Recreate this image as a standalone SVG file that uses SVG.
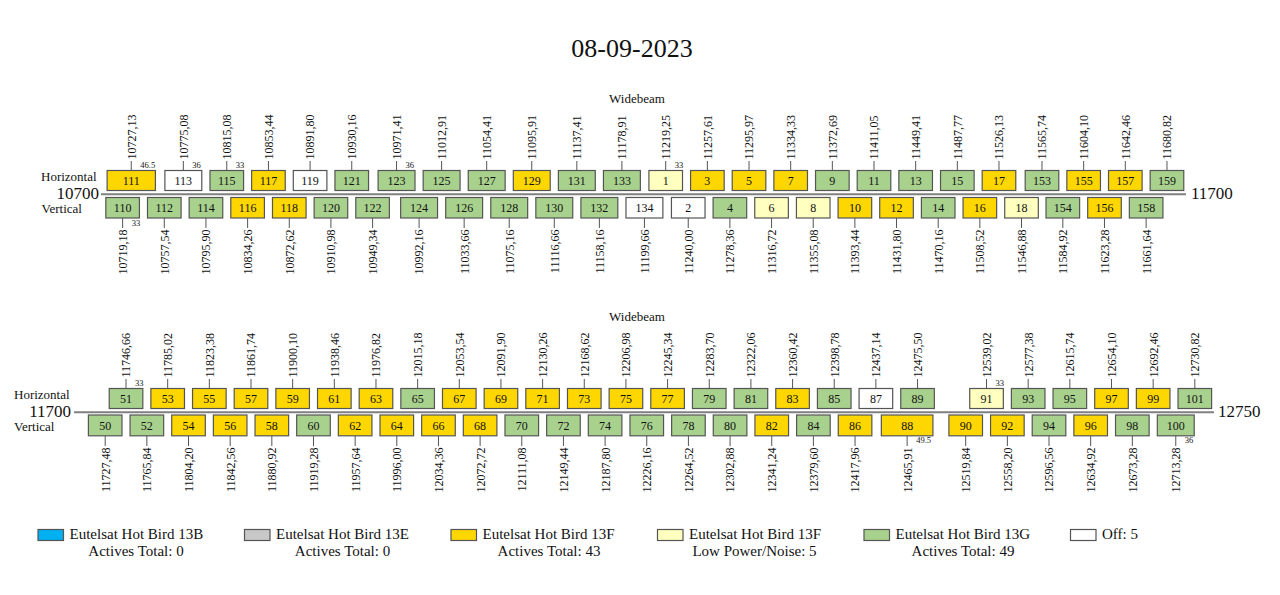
<svg xmlns="http://www.w3.org/2000/svg" width="1280" height="595" viewBox="0 0 1280 595" font-family="'Liberation Serif', 'DejaVu Serif', serif">
<style>
text{font-family:'Liberation Serif','DejaVu Serif',serif;fill:#111}
.b{stroke:#555;stroke-width:1.2}
.y{fill:#FFD700}.g{fill:#A9D18E}.l{fill:#FFFFC0}.w{fill:#FFFFFF}.u{fill:#00B0F0}.s{fill:#C8C8C8}
.n{font-size:12px;text-anchor:middle}
.f{font-size:12px}
.fe{font-size:12px;text-anchor:end}
.bw{font-size:8.5px}
.lab{font-size:13px}
.ax{font-size:17px}
.lg{font-size:15px}
.lm{font-size:15px;text-anchor:middle}
.tick{stroke:#555;stroke-width:1;fill:none}
.axis{stroke:#808080;stroke-width:2;fill:none}
</style>
<text x="632" y="57.3" font-size="26" text-anchor="middle">08-09-2023</text>

<g id="connectors">
<path class="axis" d="M101 194.3H1186M74 412.3H1214"/>
<path class="tick" d="M131.26 161V170.5M183.34 161V170.5M226.78 161V170.5M268.44 161V170.5M310.09 161V170.5M351.75 161V170.5M396.55 161V170.5M441.62 161V170.5M486.69 161V170.5M531.76 161V170.5M576.83 161V170.5M621.9 161V170.5M665.71 161V170.5M707.37 161V170.5M749.02 161V170.5M790.68 161V170.5M832.34 161V170.5M874 161V170.5M915.66 161V170.5M957.32 161V170.5M998.98 161V170.5M1041.99 161V170.5M1083.65 161V170.5M1125.31 161V170.5M1166.97 161V170.5"/>
<path class="tick" d="M122.63 218V228M164.29 218V228M205.95 218V228M247.61 218V228M289.27 218V228M330.92 218V228M372.58 218V228M419.09 218V228M464.15 218V228M509.22 218V228M554.29 218V228M599.36 218V228M644.43 218V228M688.24 218V228M729.9 218V228M771.56 218V228M813.22 218V228M854.88 218V228M896.53 218V228M938.19 218V228M979.85 218V228M1021.51 218V228M1062.82 218V228M1104.48 218V228M1146.14 218V228"/>
<path class="tick" d="M126.02 379V388.5M167.68 379V388.5M209.34 379V388.5M251 379V388.5M292.66 379V388.5M334.32 379V388.5M375.98 379V388.5M417.64 379V388.5M459.29 379V388.5M500.95 379V388.5M542.61 379V388.5M584.27 379V388.5M625.93 379V388.5M667.59 379V388.5M709.25 379V388.5M750.91 379V388.5M792.57 379V388.5M834.23 379V388.5M875.88 379V388.5M917.54 379V388.5M986.53 379V388.5M1028.18 379V388.5M1069.84 379V388.5M1111.5 379V388.5M1153.16 379V388.5M1194.82 379V388.5"/>
<path class="tick" d="M105.19 436V446M146.85 436V446M188.51 436V446M230.17 436V446M271.83 436V446M313.49 436V446M355.15 436V446M396.81 436V446M438.47 436V446M480.12 436V446M521.78 436V446M563.44 436V446M605.1 436V446M646.76 436V446M688.42 436V446M730.08 436V446M771.74 436V446M813.4 436V446M855.05 436V446M907.13 436V446M965.7 436V446M1007.36 436V446M1049.01 436V446M1090.67 436V446M1132.33 436V446M1175.77 436V446"/>
</g>

<g id="band1-labels">
<text class="lab" x="637" y="103" text-anchor="middle">Widebeam</text>
<text class="lab" x="41" y="181">Horizontal</text>
<text class="lab" x="41.5" y="213">Vertical</text>
<text class="ax" x="99" y="199" text-anchor="end">10700</text>
<text class="ax" x="1191" y="199">11700</text>
</g>

<g id="band2-labels">
<text class="lab" x="637" y="321" text-anchor="middle">Widebeam</text>
<text class="lab" x="14" y="399">Horizontal</text>
<text class="lab" x="14" y="431">Vertical</text>
<text class="ax" x="71" y="417" text-anchor="end">11700</text>
<text class="ax" x="1218" y="417">12750</text>
</g>

<!-- Band 1 Horizontal -->
<g id="tp111" transform="translate(131.26,0)"><rect class="b y" x="-24.15" y="170.5" width="48.3" height="20"/><text class="n" y="184.5">111</text><text class="f" transform="translate(4.4,159.5) rotate(-90)">10727,13</text><text class="bw" x="9" y="168.3">46.5</text></g>
<g id="tp113" transform="translate(183.34,0)"><rect class="b w" x="-18.45" y="170.5" width="36.9" height="20"/><text class="n" y="184.5">113</text><text class="f" transform="translate(4.4,159.5) rotate(-90)">10775,08</text><text class="bw" x="9" y="168.3">36</text></g>
<g id="tp115" transform="translate(226.78,0)"><rect class="b g" x="-16.8" y="170.5" width="33.6" height="20"/><text class="n" y="184.5">115</text><text class="f" transform="translate(4.4,159.5) rotate(-90)">10815,08</text><text class="bw" x="9" y="168.3">33</text></g>
<g id="tp117" transform="translate(268.44,0)"><rect class="b y" x="-16.8" y="170.5" width="33.6" height="20"/><text class="n" y="184.5">117</text><text class="f" transform="translate(4.4,159.5) rotate(-90)">10853,44</text></g>
<g id="tp119" transform="translate(310.09,0)"><rect class="b w" x="-16.8" y="170.5" width="33.6" height="20"/><text class="n" y="184.5">119</text><text class="f" transform="translate(4.4,159.5) rotate(-90)">10891,80</text></g>
<g id="tp121" transform="translate(351.75,0)"><rect class="b g" x="-16.8" y="170.5" width="33.6" height="20"/><text class="n" y="184.5">121</text><text class="f" transform="translate(4.4,159.5) rotate(-90)">10930,16</text></g>
<g id="tp123" transform="translate(396.55,0)"><rect class="b g" x="-18.45" y="170.5" width="36.9" height="20"/><text class="n" y="184.5">123</text><text class="f" transform="translate(4.4,159.5) rotate(-90)">10971,41</text><text class="bw" x="9" y="168.3">36</text></g>
<g id="tp125" transform="translate(441.62,0)"><rect class="b g" x="-18.45" y="170.5" width="36.9" height="20"/><text class="n" y="184.5">125</text><text class="f" transform="translate(4.4,159.5) rotate(-90)">11012,91</text></g>
<g id="tp127" transform="translate(486.69,0)"><rect class="b g" x="-18.45" y="170.5" width="36.9" height="20"/><text class="n" y="184.5">127</text><text class="f" transform="translate(4.4,159.5) rotate(-90)">11054,41</text></g>
<g id="tp129" transform="translate(531.76,0)"><rect class="b y" x="-18.45" y="170.5" width="36.9" height="20"/><text class="n" y="184.5">129</text><text class="f" transform="translate(4.4,159.5) rotate(-90)">11095,91</text></g>
<g id="tp131" transform="translate(576.83,0)"><rect class="b g" x="-18.45" y="170.5" width="36.9" height="20"/><text class="n" y="184.5">131</text><text class="f" transform="translate(4.4,159.5) rotate(-90)">11137,41</text></g>
<g id="tp133" transform="translate(621.9,0)"><rect class="b g" x="-18.45" y="170.5" width="36.9" height="20"/><text class="n" y="184.5">133</text><text class="f" transform="translate(4.4,159.5) rotate(-90)">11178,91</text></g>
<g id="tp1" transform="translate(665.71,0)"><rect class="b l" x="-16.8" y="170.5" width="33.6" height="20"/><text class="n" y="184.5">1</text><text class="f" transform="translate(4.4,159.5) rotate(-90)">11219,25</text><text class="bw" x="9" y="168.3">33</text></g>
<g id="tp3" transform="translate(707.37,0)"><rect class="b y" x="-16.8" y="170.5" width="33.6" height="20"/><text class="n" y="184.5">3</text><text class="f" transform="translate(4.4,159.5) rotate(-90)">11257,61</text></g>
<g id="tp5" transform="translate(749.02,0)"><rect class="b y" x="-16.8" y="170.5" width="33.6" height="20"/><text class="n" y="184.5">5</text><text class="f" transform="translate(4.4,159.5) rotate(-90)">11295,97</text></g>
<g id="tp7" transform="translate(790.68,0)"><rect class="b y" x="-16.8" y="170.5" width="33.6" height="20"/><text class="n" y="184.5">7</text><text class="f" transform="translate(4.4,159.5) rotate(-90)">11334,33</text></g>
<g id="tp9" transform="translate(832.34,0)"><rect class="b g" x="-16.8" y="170.5" width="33.6" height="20"/><text class="n" y="184.5">9</text><text class="f" transform="translate(4.4,159.5) rotate(-90)">11372,69</text></g>
<g id="tp11" transform="translate(874,0)"><rect class="b g" x="-16.8" y="170.5" width="33.6" height="20"/><text class="n" y="184.5">11</text><text class="f" transform="translate(4.4,159.5) rotate(-90)">11411,05</text></g>
<g id="tp13" transform="translate(915.66,0)"><rect class="b g" x="-16.8" y="170.5" width="33.6" height="20"/><text class="n" y="184.5">13</text><text class="f" transform="translate(4.4,159.5) rotate(-90)">11449,41</text></g>
<g id="tp15" transform="translate(957.32,0)"><rect class="b g" x="-16.8" y="170.5" width="33.6" height="20"/><text class="n" y="184.5">15</text><text class="f" transform="translate(4.4,159.5) rotate(-90)">11487,77</text></g>
<g id="tp17" transform="translate(998.98,0)"><rect class="b y" x="-16.8" y="170.5" width="33.6" height="20"/><text class="n" y="184.5">17</text><text class="f" transform="translate(4.4,159.5) rotate(-90)">11526,13</text></g>
<g id="tp153" transform="translate(1041.99,0)"><rect class="b g" x="-16.8" y="170.5" width="33.6" height="20"/><text class="n" y="184.5">153</text><text class="f" transform="translate(4.4,159.5) rotate(-90)">11565,74</text></g>
<g id="tp155" transform="translate(1083.65,0)"><rect class="b y" x="-16.8" y="170.5" width="33.6" height="20"/><text class="n" y="184.5">155</text><text class="f" transform="translate(4.4,159.5) rotate(-90)">11604,10</text></g>
<g id="tp157" transform="translate(1125.31,0)"><rect class="b y" x="-16.8" y="170.5" width="33.6" height="20"/><text class="n" y="184.5">157</text><text class="f" transform="translate(4.4,159.5) rotate(-90)">11642,46</text></g>
<g id="tp159" transform="translate(1166.97,0)"><rect class="b g" x="-16.8" y="170.5" width="33.6" height="20"/><text class="n" y="184.5">159</text><text class="f" transform="translate(4.4,159.5) rotate(-90)">11680,82</text></g>

<!-- Band 1 Vertical -->
<g id="tp110" transform="translate(122.63,0)"><rect class="b g" x="-16.8" y="197.5" width="33.6" height="20.5"/><text class="n" y="211.7">110</text><text class="fe" transform="translate(4.4,229.5) rotate(-90)">10719,18</text><text class="bw" x="9" y="225.5">33</text></g>
<g id="tp112" transform="translate(164.29,0)"><rect class="b g" x="-16.8" y="197.5" width="33.6" height="20.5"/><text class="n" y="211.7">112</text><text class="fe" transform="translate(4.4,229.5) rotate(-90)">10757,54</text></g>
<g id="tp114" transform="translate(205.95,0)"><rect class="b g" x="-16.8" y="197.5" width="33.6" height="20.5"/><text class="n" y="211.7">114</text><text class="fe" transform="translate(4.4,229.5) rotate(-90)">10795,90</text></g>
<g id="tp116" transform="translate(247.61,0)"><rect class="b y" x="-16.8" y="197.5" width="33.6" height="20.5"/><text class="n" y="211.7">116</text><text class="fe" transform="translate(4.4,229.5) rotate(-90)">10834,26</text></g>
<g id="tp118" transform="translate(289.27,0)"><rect class="b y" x="-16.8" y="197.5" width="33.6" height="20.5"/><text class="n" y="211.7">118</text><text class="fe" transform="translate(4.4,229.5) rotate(-90)">10872,62</text></g>
<g id="tp120" transform="translate(330.92,0)"><rect class="b g" x="-16.8" y="197.5" width="33.6" height="20.5"/><text class="n" y="211.7">120</text><text class="fe" transform="translate(4.4,229.5) rotate(-90)">10910,98</text></g>
<g id="tp122" transform="translate(372.58,0)"><rect class="b g" x="-16.8" y="197.5" width="33.6" height="20.5"/><text class="n" y="211.7">122</text><text class="fe" transform="translate(4.4,229.5) rotate(-90)">10949,34</text></g>
<g id="tp124" transform="translate(419.09,0)"><rect class="b g" x="-18.45" y="197.5" width="36.9" height="20.5"/><text class="n" y="211.7">124</text><text class="fe" transform="translate(4.4,229.5) rotate(-90)">10992,16</text></g>
<g id="tp126" transform="translate(464.15,0)"><rect class="b g" x="-18.45" y="197.5" width="36.9" height="20.5"/><text class="n" y="211.7">126</text><text class="fe" transform="translate(4.4,229.5) rotate(-90)">11033,66</text></g>
<g id="tp128" transform="translate(509.22,0)"><rect class="b g" x="-18.45" y="197.5" width="36.9" height="20.5"/><text class="n" y="211.7">128</text><text class="fe" transform="translate(4.4,229.5) rotate(-90)">11075,16</text></g>
<g id="tp130" transform="translate(554.29,0)"><rect class="b g" x="-18.45" y="197.5" width="36.9" height="20.5"/><text class="n" y="211.7">130</text><text class="fe" transform="translate(4.4,229.5) rotate(-90)">11116,66</text></g>
<g id="tp132" transform="translate(599.36,0)"><rect class="b g" x="-18.45" y="197.5" width="36.9" height="20.5"/><text class="n" y="211.7">132</text><text class="fe" transform="translate(4.4,229.5) rotate(-90)">11158,16</text></g>
<g id="tp134" transform="translate(644.43,0)"><rect class="b w" x="-18.45" y="197.5" width="36.9" height="20.5"/><text class="n" y="211.7">134</text><text class="fe" transform="translate(4.4,229.5) rotate(-90)">11199,66</text></g>
<g id="tp2" transform="translate(688.24,0)"><rect class="b w" x="-16.8" y="197.5" width="33.6" height="20.5"/><text class="n" y="211.7">2</text><text class="fe" transform="translate(4.4,229.5) rotate(-90)">11240,00</text></g>
<g id="tp4" transform="translate(729.9,0)"><rect class="b g" x="-16.8" y="197.5" width="33.6" height="20.5"/><text class="n" y="211.7">4</text><text class="fe" transform="translate(4.4,229.5) rotate(-90)">11278,36</text></g>
<g id="tp6" transform="translate(771.56,0)"><rect class="b l" x="-16.8" y="197.5" width="33.6" height="20.5"/><text class="n" y="211.7">6</text><text class="fe" transform="translate(4.4,229.5) rotate(-90)">11316,72</text></g>
<g id="tp8" transform="translate(813.22,0)"><rect class="b l" x="-16.8" y="197.5" width="33.6" height="20.5"/><text class="n" y="211.7">8</text><text class="fe" transform="translate(4.4,229.5) rotate(-90)">11355,08</text></g>
<g id="tp10" transform="translate(854.88,0)"><rect class="b y" x="-16.8" y="197.5" width="33.6" height="20.5"/><text class="n" y="211.7">10</text><text class="fe" transform="translate(4.4,229.5) rotate(-90)">11393,44</text></g>
<g id="tp12" transform="translate(896.53,0)"><rect class="b y" x="-16.8" y="197.5" width="33.6" height="20.5"/><text class="n" y="211.7">12</text><text class="fe" transform="translate(4.4,229.5) rotate(-90)">11431,80</text></g>
<g id="tp14" transform="translate(938.19,0)"><rect class="b g" x="-16.8" y="197.5" width="33.6" height="20.5"/><text class="n" y="211.7">14</text><text class="fe" transform="translate(4.4,229.5) rotate(-90)">11470,16</text></g>
<g id="tp16" transform="translate(979.85,0)"><rect class="b y" x="-16.8" y="197.5" width="33.6" height="20.5"/><text class="n" y="211.7">16</text><text class="fe" transform="translate(4.4,229.5) rotate(-90)">11508,52</text></g>
<g id="tp18" transform="translate(1021.51,0)"><rect class="b l" x="-16.8" y="197.5" width="33.6" height="20.5"/><text class="n" y="211.7">18</text><text class="fe" transform="translate(4.4,229.5) rotate(-90)">11546,88</text></g>
<g id="tp154" transform="translate(1062.82,0)"><rect class="b g" x="-16.8" y="197.5" width="33.6" height="20.5"/><text class="n" y="211.7">154</text><text class="fe" transform="translate(4.4,229.5) rotate(-90)">11584,92</text></g>
<g id="tp156" transform="translate(1104.48,0)"><rect class="b y" x="-16.8" y="197.5" width="33.6" height="20.5"/><text class="n" y="211.7">156</text><text class="fe" transform="translate(4.4,229.5) rotate(-90)">11623,28</text></g>
<g id="tp158" transform="translate(1146.14,0)"><rect class="b g" x="-16.8" y="197.5" width="33.6" height="20.5"/><text class="n" y="211.7">158</text><text class="fe" transform="translate(4.4,229.5) rotate(-90)">11661,64</text></g>

<!-- Band 2 Horizontal -->
<g id="tp51" transform="translate(126.02,0)"><rect class="b g" x="-16.8" y="388.5" width="33.6" height="20"/><text class="n" y="402.5">51</text><text class="f" transform="translate(4.4,377.5) rotate(-90)">11746,66</text><text class="bw" x="9" y="386.3">33</text></g>
<g id="tp53" transform="translate(167.68,0)"><rect class="b y" x="-16.8" y="388.5" width="33.6" height="20"/><text class="n" y="402.5">53</text><text class="f" transform="translate(4.4,377.5) rotate(-90)">11785,02</text></g>
<g id="tp55" transform="translate(209.34,0)"><rect class="b y" x="-16.8" y="388.5" width="33.6" height="20"/><text class="n" y="402.5">55</text><text class="f" transform="translate(4.4,377.5) rotate(-90)">11823,38</text></g>
<g id="tp57" transform="translate(251,0)"><rect class="b y" x="-16.8" y="388.5" width="33.6" height="20"/><text class="n" y="402.5">57</text><text class="f" transform="translate(4.4,377.5) rotate(-90)">11861,74</text></g>
<g id="tp59" transform="translate(292.66,0)"><rect class="b y" x="-16.8" y="388.5" width="33.6" height="20"/><text class="n" y="402.5">59</text><text class="f" transform="translate(4.4,377.5) rotate(-90)">11900,10</text></g>
<g id="tp61" transform="translate(334.32,0)"><rect class="b y" x="-16.8" y="388.5" width="33.6" height="20"/><text class="n" y="402.5">61</text><text class="f" transform="translate(4.4,377.5) rotate(-90)">11938,46</text></g>
<g id="tp63" transform="translate(375.98,0)"><rect class="b y" x="-16.8" y="388.5" width="33.6" height="20"/><text class="n" y="402.5">63</text><text class="f" transform="translate(4.4,377.5) rotate(-90)">11976,82</text></g>
<g id="tp65" transform="translate(417.64,0)"><rect class="b g" x="-16.8" y="388.5" width="33.6" height="20"/><text class="n" y="402.5">65</text><text class="f" transform="translate(4.4,377.5) rotate(-90)">12015,18</text></g>
<g id="tp67" transform="translate(459.29,0)"><rect class="b y" x="-16.8" y="388.5" width="33.6" height="20"/><text class="n" y="402.5">67</text><text class="f" transform="translate(4.4,377.5) rotate(-90)">12053,54</text></g>
<g id="tp69" transform="translate(500.95,0)"><rect class="b y" x="-16.8" y="388.5" width="33.6" height="20"/><text class="n" y="402.5">69</text><text class="f" transform="translate(4.4,377.5) rotate(-90)">12091,90</text></g>
<g id="tp71" transform="translate(542.61,0)"><rect class="b y" x="-16.8" y="388.5" width="33.6" height="20"/><text class="n" y="402.5">71</text><text class="f" transform="translate(4.4,377.5) rotate(-90)">12130,26</text></g>
<g id="tp73" transform="translate(584.27,0)"><rect class="b y" x="-16.8" y="388.5" width="33.6" height="20"/><text class="n" y="402.5">73</text><text class="f" transform="translate(4.4,377.5) rotate(-90)">12168,62</text></g>
<g id="tp75" transform="translate(625.93,0)"><rect class="b y" x="-16.8" y="388.5" width="33.6" height="20"/><text class="n" y="402.5">75</text><text class="f" transform="translate(4.4,377.5) rotate(-90)">12206,98</text></g>
<g id="tp77" transform="translate(667.59,0)"><rect class="b y" x="-16.8" y="388.5" width="33.6" height="20"/><text class="n" y="402.5">77</text><text class="f" transform="translate(4.4,377.5) rotate(-90)">12245,34</text></g>
<g id="tp79" transform="translate(709.25,0)"><rect class="b g" x="-16.8" y="388.5" width="33.6" height="20"/><text class="n" y="402.5">79</text><text class="f" transform="translate(4.4,377.5) rotate(-90)">12283,70</text></g>
<g id="tp81" transform="translate(750.91,0)"><rect class="b g" x="-16.8" y="388.5" width="33.6" height="20"/><text class="n" y="402.5">81</text><text class="f" transform="translate(4.4,377.5) rotate(-90)">12322,06</text></g>
<g id="tp83" transform="translate(792.57,0)"><rect class="b y" x="-16.8" y="388.5" width="33.6" height="20"/><text class="n" y="402.5">83</text><text class="f" transform="translate(4.4,377.5) rotate(-90)">12360,42</text></g>
<g id="tp85" transform="translate(834.23,0)"><rect class="b g" x="-16.8" y="388.5" width="33.6" height="20"/><text class="n" y="402.5">85</text><text class="f" transform="translate(4.4,377.5) rotate(-90)">12398,78</text></g>
<g id="tp87" transform="translate(875.88,0)"><rect class="b w" x="-16.8" y="388.5" width="33.6" height="20"/><text class="n" y="402.5">87</text><text class="f" transform="translate(4.4,377.5) rotate(-90)">12437,14</text></g>
<g id="tp89" transform="translate(917.54,0)"><rect class="b g" x="-16.8" y="388.5" width="33.6" height="20"/><text class="n" y="402.5">89</text><text class="f" transform="translate(4.4,377.5) rotate(-90)">12475,50</text></g>
<g id="tp91" transform="translate(986.53,0)"><rect class="b l" x="-16.8" y="388.5" width="33.6" height="20"/><text class="n" y="402.5">91</text><text class="f" transform="translate(4.4,377.5) rotate(-90)">12539,02</text><text class="bw" x="9" y="386.3">33</text></g>
<g id="tp93" transform="translate(1028.18,0)"><rect class="b g" x="-16.8" y="388.5" width="33.6" height="20"/><text class="n" y="402.5">93</text><text class="f" transform="translate(4.4,377.5) rotate(-90)">12577,38</text></g>
<g id="tp95" transform="translate(1069.84,0)"><rect class="b g" x="-16.8" y="388.5" width="33.6" height="20"/><text class="n" y="402.5">95</text><text class="f" transform="translate(4.4,377.5) rotate(-90)">12615,74</text></g>
<g id="tp97" transform="translate(1111.5,0)"><rect class="b y" x="-16.8" y="388.5" width="33.6" height="20"/><text class="n" y="402.5">97</text><text class="f" transform="translate(4.4,377.5) rotate(-90)">12654,10</text></g>
<g id="tp99" transform="translate(1153.16,0)"><rect class="b y" x="-16.8" y="388.5" width="33.6" height="20"/><text class="n" y="402.5">99</text><text class="f" transform="translate(4.4,377.5) rotate(-90)">12692,46</text></g>
<g id="tp101" transform="translate(1194.82,0)"><rect class="b g" x="-16.8" y="388.5" width="33.6" height="20"/><text class="n" y="402.5">101</text><text class="f" transform="translate(4.4,377.5) rotate(-90)">12730,82</text></g>

<!-- Band 2 Vertical -->
<g id="tp50" transform="translate(105.19,0)"><rect class="b g" x="-16.8" y="415" width="33.6" height="20.8"/><text class="n" y="429.5">50</text><text class="fe" transform="translate(4.4,447.5) rotate(-90)">11727,48</text></g>
<g id="tp52" transform="translate(146.85,0)"><rect class="b g" x="-16.8" y="415" width="33.6" height="20.8"/><text class="n" y="429.5">52</text><text class="fe" transform="translate(4.4,447.5) rotate(-90)">11765,84</text></g>
<g id="tp54" transform="translate(188.51,0)"><rect class="b y" x="-16.8" y="415" width="33.6" height="20.8"/><text class="n" y="429.5">54</text><text class="fe" transform="translate(4.4,447.5) rotate(-90)">11804,20</text></g>
<g id="tp56" transform="translate(230.17,0)"><rect class="b y" x="-16.8" y="415" width="33.6" height="20.8"/><text class="n" y="429.5">56</text><text class="fe" transform="translate(4.4,447.5) rotate(-90)">11842,56</text></g>
<g id="tp58" transform="translate(271.83,0)"><rect class="b y" x="-16.8" y="415" width="33.6" height="20.8"/><text class="n" y="429.5">58</text><text class="fe" transform="translate(4.4,447.5) rotate(-90)">11880,92</text></g>
<g id="tp60" transform="translate(313.49,0)"><rect class="b g" x="-16.8" y="415" width="33.6" height="20.8"/><text class="n" y="429.5">60</text><text class="fe" transform="translate(4.4,447.5) rotate(-90)">11919,28</text></g>
<g id="tp62" transform="translate(355.15,0)"><rect class="b y" x="-16.8" y="415" width="33.6" height="20.8"/><text class="n" y="429.5">62</text><text class="fe" transform="translate(4.4,447.5) rotate(-90)">11957,64</text></g>
<g id="tp64" transform="translate(396.81,0)"><rect class="b y" x="-16.8" y="415" width="33.6" height="20.8"/><text class="n" y="429.5">64</text><text class="fe" transform="translate(4.4,447.5) rotate(-90)">11996,00</text></g>
<g id="tp66" transform="translate(438.47,0)"><rect class="b y" x="-16.8" y="415" width="33.6" height="20.8"/><text class="n" y="429.5">66</text><text class="fe" transform="translate(4.4,447.5) rotate(-90)">12034,36</text></g>
<g id="tp68" transform="translate(480.12,0)"><rect class="b y" x="-16.8" y="415" width="33.6" height="20.8"/><text class="n" y="429.5">68</text><text class="fe" transform="translate(4.4,447.5) rotate(-90)">12072,72</text></g>
<g id="tp70" transform="translate(521.78,0)"><rect class="b g" x="-16.8" y="415" width="33.6" height="20.8"/><text class="n" y="429.5">70</text><text class="fe" transform="translate(4.4,447.5) rotate(-90)">12111,08</text></g>
<g id="tp72" transform="translate(563.44,0)"><rect class="b g" x="-16.8" y="415" width="33.6" height="20.8"/><text class="n" y="429.5">72</text><text class="fe" transform="translate(4.4,447.5) rotate(-90)">12149,44</text></g>
<g id="tp74" transform="translate(605.1,0)"><rect class="b g" x="-16.8" y="415" width="33.6" height="20.8"/><text class="n" y="429.5">74</text><text class="fe" transform="translate(4.4,447.5) rotate(-90)">12187,80</text></g>
<g id="tp76" transform="translate(646.76,0)"><rect class="b g" x="-16.8" y="415" width="33.6" height="20.8"/><text class="n" y="429.5">76</text><text class="fe" transform="translate(4.4,447.5) rotate(-90)">12226,16</text></g>
<g id="tp78" transform="translate(688.42,0)"><rect class="b g" x="-16.8" y="415" width="33.6" height="20.8"/><text class="n" y="429.5">78</text><text class="fe" transform="translate(4.4,447.5) rotate(-90)">12264,52</text></g>
<g id="tp80" transform="translate(730.08,0)"><rect class="b g" x="-16.8" y="415" width="33.6" height="20.8"/><text class="n" y="429.5">80</text><text class="fe" transform="translate(4.4,447.5) rotate(-90)">12302,88</text></g>
<g id="tp82" transform="translate(771.74,0)"><rect class="b y" x="-16.8" y="415" width="33.6" height="20.8"/><text class="n" y="429.5">82</text><text class="fe" transform="translate(4.4,447.5) rotate(-90)">12341,24</text></g>
<g id="tp84" transform="translate(813.4,0)"><rect class="b g" x="-16.8" y="415" width="33.6" height="20.8"/><text class="n" y="429.5">84</text><text class="fe" transform="translate(4.4,447.5) rotate(-90)">12379,60</text></g>
<g id="tp86" transform="translate(855.05,0)"><rect class="b y" x="-16.8" y="415" width="33.6" height="20.8"/><text class="n" y="429.5">86</text><text class="fe" transform="translate(4.4,447.5) rotate(-90)">12417,96</text></g>
<g id="tp88" transform="translate(907.13,0)"><rect class="b y" x="-25.8" y="415" width="51.6" height="20.8"/><text class="n" y="429.5">88</text><text class="fe" transform="translate(4.4,447.5) rotate(-90)">12465,91</text><text class="bw" x="9" y="443.3">49.5</text></g>
<g id="tp90" transform="translate(965.7,0)"><rect class="b y" x="-16.8" y="415" width="33.6" height="20.8"/><text class="n" y="429.5">90</text><text class="fe" transform="translate(4.4,447.5) rotate(-90)">12519,84</text></g>
<g id="tp92" transform="translate(1007.36,0)"><rect class="b y" x="-16.8" y="415" width="33.6" height="20.8"/><text class="n" y="429.5">92</text><text class="fe" transform="translate(4.4,447.5) rotate(-90)">12558,20</text></g>
<g id="tp94" transform="translate(1049.01,0)"><rect class="b g" x="-16.8" y="415" width="33.6" height="20.8"/><text class="n" y="429.5">94</text><text class="fe" transform="translate(4.4,447.5) rotate(-90)">12596,56</text></g>
<g id="tp96" transform="translate(1090.67,0)"><rect class="b y" x="-16.8" y="415" width="33.6" height="20.8"/><text class="n" y="429.5">96</text><text class="fe" transform="translate(4.4,447.5) rotate(-90)">12634,92</text></g>
<g id="tp98" transform="translate(1132.33,0)"><rect class="b g" x="-16.8" y="415" width="33.6" height="20.8"/><text class="n" y="429.5">98</text><text class="fe" transform="translate(4.4,447.5) rotate(-90)">12673,28</text></g>
<g id="tp100" transform="translate(1175.77,0)"><rect class="b g" x="-18.45" y="415" width="36.9" height="20.8"/><text class="n" y="429.5">100</text><text class="fe" transform="translate(4.4,447.5) rotate(-90)">12713,28</text><text class="bw" x="9" y="443.3">36</text></g>

<!-- Legend -->
<g id="legend-13B"><rect class="b u" x="38" y="529.5" width="25.5" height="11"/><text class="lg" x="69.5" y="539">Eutelsat Hot Bird 13B</text><text class="lm" x="136" y="555.5">Actives Total: 0</text></g>
<g id="legend-13E"><rect class="b s" x="244.5" y="529.5" width="25.5" height="11"/><text class="lg" x="276" y="539">Eutelsat Hot Bird 13E</text><text class="lm" x="342.5" y="555.5">Actives Total: 0</text></g>
<g id="legend-13F"><rect class="b y" x="451" y="529.5" width="25.5" height="11"/><text class="lg" x="482.5" y="539">Eutelsat Hot Bird 13F</text><text class="lm" x="549" y="555.5">Actives Total: 43</text></g>
<g id="legend-13F-low"><rect class="b l" x="657.5" y="529.5" width="25.5" height="11"/><text class="lg" x="689" y="539">Eutelsat Hot Bird 13F</text><text class="lm" x="754.5" y="555.5">Low Power/Noise: 5</text></g>
<g id="legend-13G"><rect class="b g" x="864" y="529.5" width="25.5" height="11"/><text class="lg" x="895.5" y="539">Eutelsat Hot Bird 13G</text><text class="lm" x="963" y="555.5">Actives Total: 49</text></g>
<g id="legend-off"><rect class="b w" x="1070.5" y="529.5" width="25.5" height="11"/><text class="lg" x="1102" y="539">Off: 5</text></g>
</svg>
